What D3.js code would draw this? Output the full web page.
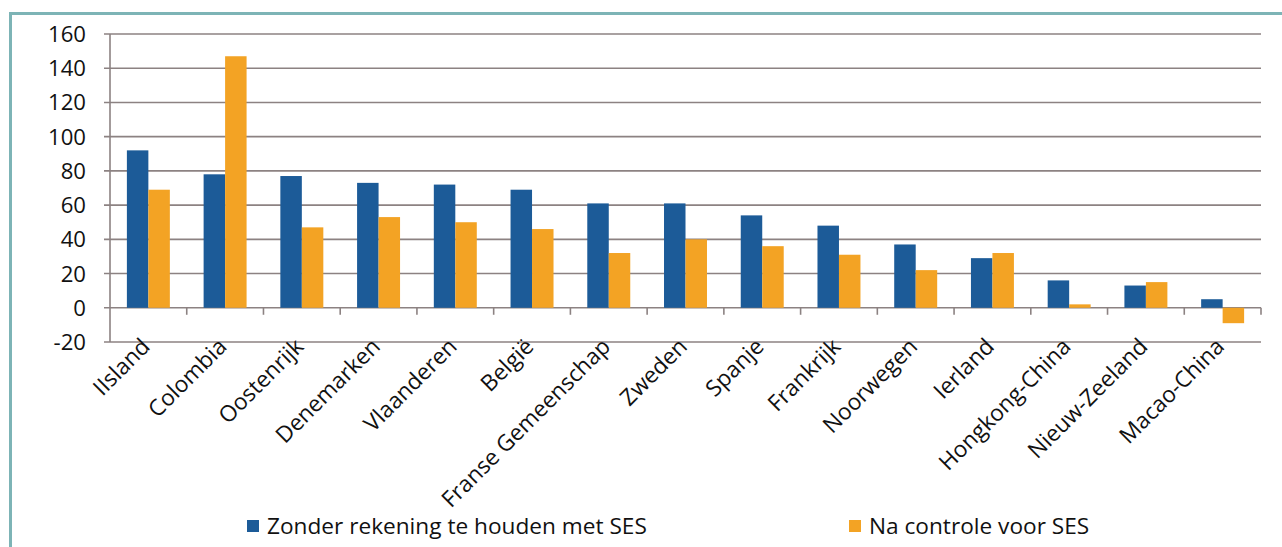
<!DOCTYPE html>
<html><head><meta charset="utf-8">
<script src="https://cdn.jsdelivr.net/npm/d3@7/dist/d3.min.js"></script>
<style>body{margin:0;background:#fff;} svg{display:block;}</style>
</head><body>
<svg id="c" width="1282" height="547"></svg>
<script>
const categories = ["IIsland","Colombia","Oostenrijk","Denemarken","Vlaanderen","België","Franse Gemeenschap","Zweden","Spanje","Frankrijk","Noorwegen","Ierland","Hongkong-China","Nieuw-Zeeland","Macao-China"];
const seriesNames = ["Zonder rekening te houden met SES","Na controle voor SES"];
const zonderSES = [92,78,77,73,72,69,61,61,54,48,37,29,16,13,5];
const naControleSES = [69,147,47,53,50,46,32,40,36,31,22,32,2,15,-9];
const yTicks = [-20,0,20,40,60,80,100,120,140,160];
const colors = ["#1c5b98","#f3a324"];

const svg = d3.select("#c");
const font = "'Open Sans', Lato, sans-serif";

function fitSize(sample, target, weight) {
  const t = svg.append("text").attr("font-family",font).attr("font-size",20)
    .attr("font-weight",weight||400).text(sample);
  const w = t.node().getComputedTextLength();
  t.remove();
  return 20 * target / w;
}

// frame
svg.append("rect").attr("x",0).attr("y",0).attr("width",1282).attr("height",547).attr("fill","#fff");
svg.append("line").attr("x1",10.5).attr("x2",10.5).attr("y1",12).attr("y2",547).attr("stroke","#7db4b6").attr("stroke-width",3);
svg.append("line").attr("x1",9).attr("x2",1282).attr("y1",13.5).attr("y2",13.5).attr("stroke","#7db4b6").attr("stroke-width",3);

const L = 110, R = 1261;
const y = d3.scaleLinear().domain([-20,160]).range([342,34]);
const x0 = d3.scaleBand().domain(categories).range([L,R]).paddingInner(0.44).paddingOuter(0.22);
const x1 = d3.scaleBand().domain([0,1]).range([0,x0.bandwidth()]);
const step = (R-L)/categories.length;

// gridlines
svg.append("g").selectAll("line").data(yTicks).join("line")
  .attr("x1",L-6).attr("x2",R).attr("y1",d=>y(d)).attr("y2",d=>y(d))
  .attr("stroke","#8c8282").attr("stroke-width",1.6);
// y axis
svg.append("line").attr("x1",L).attr("x2",L).attr("y1",y(160)).attr("y2",y(-20)).attr("stroke","#8c8282").attr("stroke-width",1.6);
// category ticks on zero line
svg.append("g").selectAll("line").data(d3.range(1,categories.length+1)).join("line")
  .attr("x1",i=>L+i*step).attr("x2",i=>L+i*step).attr("y1",y(0)).attr("y2",y(0)+7)
  .attr("stroke","#8c8282").attr("stroke-width",1.6);

// y labels
const ySize = fitSize("160", 38);
svg.append("g").selectAll("text").data(yTicks).join("text")
  .attr("x",86).attr("y",d=>y(d)).attr("dy","0.36em").attr("text-anchor","end")
  .attr("font-family",font).attr("font-size",ySize).attr("fill","#111").text(d=>d);

// bars
const data = categories.map((c,i)=>({c, v:[zonderSES[i], naControleSES[i]]}));
const g = svg.append("g").selectAll("g").data(data).join("g").attr("transform",d=>`translate(${x0(d.c)},0)`);
g.selectAll("rect").data(d=>d.v.map((v,k)=>({v,k}))).join("rect")
  .attr("x",d=>x1(d.k)).attr("width",x1.bandwidth())
  .attr("y",d=>y(Math.max(0,d.v))).attr("height",d=>Math.abs(y(d.v)-y(0)))
  .attr("fill",d=>colors[d.k]);

// x labels
const xSize = fitSize("Colombia", 100, 500);
svg.append("g").selectAll("text").data(categories).join("text")
  .attr("transform",d=>`translate(${x0(d)+x0.bandwidth()/2+3},${y(-20)+6}) rotate(-45)`)
  .attr("text-anchor","end").attr("font-family",font).attr("font-size",xSize).attr("font-weight",500)
  .attr("fill","#111").text(d=>d);

// legend
const legSize = fitSize(seriesNames[0], 380);
const leg = [{x:247,t:seriesNames[0]},{x:849,t:seriesNames[1]}];
const lg = svg.append("g").selectAll("g").data(leg).join("g").attr("transform",d=>`translate(${d.x},0)`);
lg.append("rect").attr("x",0).attr("y",520).attr("width",12).attr("height",12).attr("fill",(d,i)=>colors[i]);
lg.append("text").attr("x",20).attr("y",526).attr("dy","0.36em").attr("font-family",font).attr("font-size",legSize)
  .attr("fill","#111").text(d=>d.t);
</script>
</body></html>
